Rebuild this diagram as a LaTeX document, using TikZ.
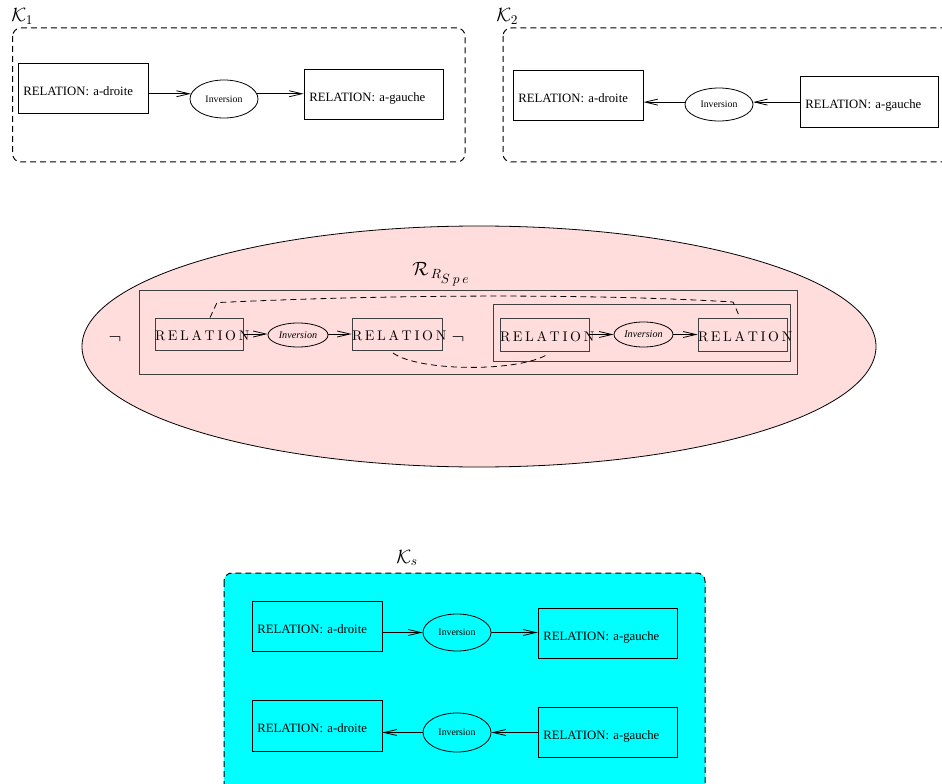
\documentclass[tikz,border=0pt]{standalone}
\usepackage{fontspec}
\newfontfamily\tms{Liberation Serif}
\usetikzlibrary{arrows.meta,shapes.geometric}
\definecolor{pinkfill}{RGB}{255,221,221}
\definecolor{cyanfill}{RGB}{0,255,255}
\newcommand{\spacedrel}{R\kern2pt E\kern2pt L\kern2pt A\kern2pt T\kern2pt I\kern2pt O\kern2pt N}
\tikzset{
  kframe/.style={draw, rounded corners=6pt, dash pattern=on 4.5pt off 3pt, line width=0.75pt},
  relbox/.style 2 args={draw, line width=0.6pt, rectangle, inner xsep=4pt, inner ysep=0pt,
     minimum width=#1, text width=#1-8pt, minimum height=#2, align=left,
     font=\tms\fontsize{9.55}{11}\selectfont, text height=11pt, text depth=0pt},
  invell/.style 2 args={draw, ellipse, line width=0.6pt, inner sep=0pt, minimum width=#1, minimum height=#2,
     font=\tms\fontsize{7.35}{8}\selectfont},
  invsm/.style 2 args={draw, ellipse, line width=0.6pt, inner sep=0pt, minimum width=#1, minimum height=#2,
     font=\tms\itshape\fontsize{7.6}{8}\selectfont},
  mrel/.style 2 args={draw=black!75, line width=0.6pt, rectangle, inner sep=0pt,
     minimum width=#1, minimum height=#2, font=\fontsize{10.5}{12}\selectfont,
     text height=10pt, text depth=0pt},
  arr/.style={-{Straight Barb[length=9.5pt,width=4.5pt]}, line width=0.6pt},
  lbl/.style={inner sep=0pt, font=\fontsize{14.4}{17}\selectfont},
  negl/.style={inner sep=0pt, font=\fontsize{14}{16}\selectfont},
  dlink/.style={dash pattern=on 4.5pt off 3pt, line width=0.6pt},
}
\begin{document}
\begin{tikzpicture}[x=0.75pt,y=-0.75pt]
\useasboundingbox (0,0) rectangle (942,784);
\clip (0,0) rectangle (942,784);

% ---------- K1 ----------
\draw[kframe] (12.7,28) rectangle (465,162);
\node[lbl, anchor=base west] (k1lbl) at (11,22) {$\mathcal{K}_1$};
\node[relbox={97.5pt}{37.5pt}] (b1) at (83,88) {RELATION: a-droite};
\node[invell={51pt}{28.5pt}] (e1) at (224,99) {Inversion};
\node[relbox={104.25pt}{37.5pt}] (b2) at (373.5,94) {RELATION: a-gauche};
\draw[arr] (b1.east |- e1.171) -- (e1.171);
\draw[arr] (e1.9) -- (b2.west |- e1.9);

% ---------- K2 ----------
\draw[kframe] (503,28) rectangle (970,162);
\node[lbl, anchor=base west] (k2lbl) at (496,22) {$\mathcal{K}_2$};
\node[relbox={97.5pt}{37.5pt}] (b3) at (578,95) {RELATION: a-droite};
\node[invell={51pt}{24.75pt}] (e2) at (719,104.5) {Inversion};
\node[relbox={103.5pt}{38.25pt}] (b4) at (869,101.5) {RELATION: a-gauche};
\draw[arr] (b4.west |- e2.4) -- (e2.4);
\draw[arr] (e2.176) -- (b3.east |- e2.176);

% ---------- R_{R_Spe} ----------
\node[draw, ellipse, fill=pinkfill, line width=0.6pt, minimum width=595.5pt, minimum height=180.75pt] (spe) at (479,346.5) {};
\node[lbl, anchor=base west] (rlbl) at (412,276) {$\mathcal{R}_{\mkern3mu R_{\scriptstyle S\mkern4mu p\mkern4mu e}}$};
\draw[draw=black!75, line width=0.6pt] (139,290) rectangle (797,374);
\draw[draw=black!75, line width=0.6pt] (493,304) rectangle (790,361);
\node[negl] (n1) at (115,339) {$\neg$};
\node[negl] (n2) at (458,339) {$\neg$};
\node[mrel={66pt}{24pt}] (r1) at (199,334) {\makebox[66pt][l]{\spacedrel}};
\node[invsm={45pt}{18pt}] (i1) at (298,335) {Inversion};
\node[mrel={67.5pt}{24pt}] (r2) at (397,334) {\makebox[67.5pt][l]{\spacedrel}};
\node[mrel={66.75pt}{24.75pt}] (r3) at (544.5,334.5) {\makebox[66.75pt][l]{\spacedrel}};
\node[invsm={44.25pt}{18.75pt}] (i2) at (643.5,334.5) {Inversion};
\node[mrel={66.75pt}{24.75pt}] (r4) at (742.5,334.5) {\makebox[66.75pt][l]{\spacedrel}};
\draw[arr] (r1.east) -- (i1.west |- r1.east);
\draw[arr] (i1.east |- r2.west) -- (r2.west);
\draw[arr] (r3.east) -- (i2.west |- r3.east);
\draw[arr] (i2.east |- r4.west) -- (r4.west);
\draw[dlink] ([xshift=8.25pt]r1.north) -- ++(7,-15) .. controls (400,294) and (600,294) .. (733,302) -- ([xshift=-1.9pt]r4.north);
\draw[dlink] ([xshift=-3pt,yshift=-2pt]r2.south) .. controls (420,372) and (520,372) .. ([xshift=2.6pt,yshift=-2pt]r3.south);

% ---------- Ks ----------
\draw[kframe, fill=cyanfill] (224,573) rectangle (705,800);
\node[lbl, anchor=base west] (kslbl) at (396,563) {$\mathcal{K}_s$};
\node[relbox={97.5pt}{37.5pt}] (c1) at (317,626) {RELATION: a-droite};
\node[invell={51pt}{27.75pt}] (ce1) at (457,632.5) {Inversion};
\node[relbox={104.25pt}{37.5pt}] (c2) at (607.5,633) {RELATION: a-gauche};
\node[relbox={97.5pt}{38.25pt}] (c3) at (317,725.5) {RELATION: a-droite};
\node[invell={51pt}{29.25pt}] (ce2) at (457,732.5) {Inversion};
\node[relbox={104.25pt}{37.5pt}] (c4) at (607.5,732) {RELATION: a-gauche};
\draw[arr] (c1.east |- ce1.west) -- (ce1.west);
\draw[arr] (ce1.east) -- (c2.west |- ce1.east);
\draw[arr] (c4.west |- ce2.east) -- (ce2.east);
\draw[arr] (ce2.west) -- (c3.east |- ce2.west);
\end{tikzpicture}
\end{document}
